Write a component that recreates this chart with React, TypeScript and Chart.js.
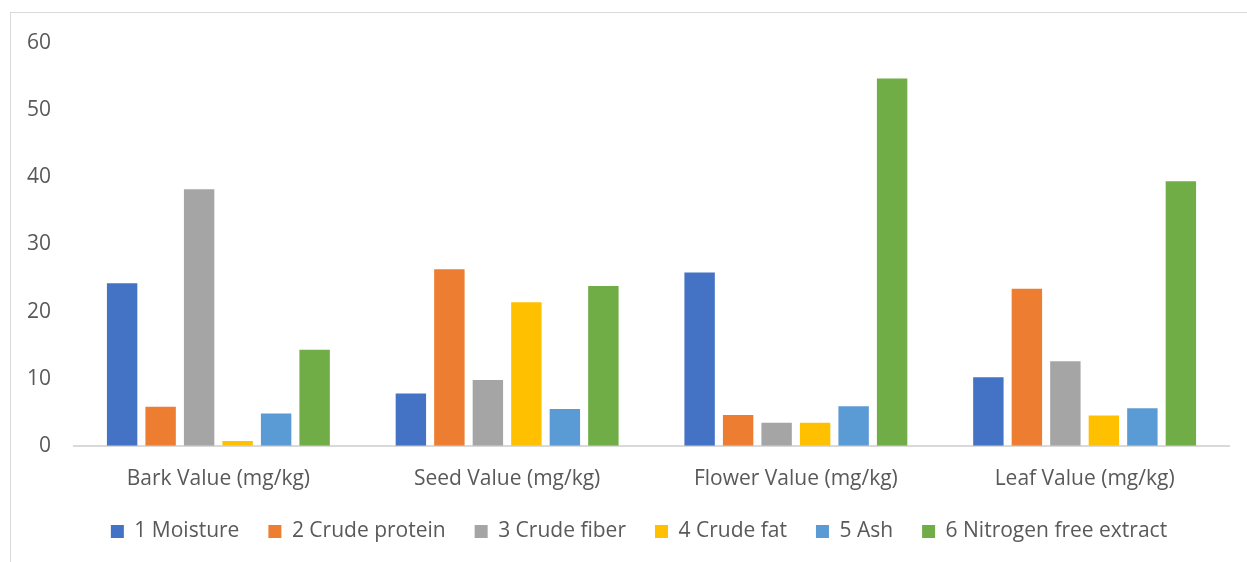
import React, { useEffect, useRef } from "react";
import { Chart, registerables } from "chart.js";

Chart.register(...registerables);

const categories = [
  "Bark Value (mg/kg)",
  "Seed Value (mg/kg)",
  "Flower Value (mg/kg)",
  "Leaf Value (mg/kg)",
];
const seriesNames = [
  "1 Moisture",
  "2 Crude protein",
  "3 Crude fiber",
  "4 Crude fat",
  "5 Ash",
  "6 Nitrogen free extract",
];
const moisture = [24.2, 7.8, 25.8, 10.2];
const crudeProtein = [5.8, 26.3, 4.6, 23.4];
const crudeFiber = [38.2, 9.8, 3.45, 12.6];
const crudeFat = [0.7, 21.4, 3.45, 4.5];
const ash = [4.8, 5.5, 5.9, 5.6];
const nitrogenFreeExtract = [14.3, 23.8, 54.7, 39.4];
const colors = ["#4472C4", "#ED7D31", "#A5A5A5", "#FFC000", "#5B9BD5", "#70AD47"];
const yTicks = [0, 10, 20, 30, 40, 50, 60];

const FONT = "'Open Sans', 'Noto Sans', sans-serif";

const legendShift = {
  id: "legendShift",
  afterLayout(chart: any) {
    const l = chart.legend;
    if (!l) return;
    l.left += 11;
    l.right += 11;
    l.top -= 21;
    l.bottom -= 21;
  },
};

export default function App() {
  const ref = useRef<HTMLCanvasElement | null>(null);
  useEffect(() => {
    if (!ref.current) return;
    const values = [moisture, crudeProtein, crudeFiber, crudeFat, ash, nitrogenFreeExtract];
    const chart = new Chart(ref.current, {
      type: "bar",
      data: {
        labels: categories,
        datasets: seriesNames.map((name, i) => ({
          label: name,
          data: values[i],
          backgroundColor: colors[i],
          borderWidth: 0,
          barPercentage: 0.79,
          categoryPercentage: 0.8,
        })),
      },
      plugins: [legendShift],
      options: {
        animation: false,
        responsive: false,
        maintainAspectRatio: false,
        layout: { padding: { left: 27, right: 18, top: 43, bottom: -11 } },
        plugins: {
          tooltip: { enabled: false },
          legend: {
            position: "bottom",
            labels: {
              boxWidth: 13,
              boxHeight: 13,
              padding: 29,
              color: "#595959",
              font: { family: FONT, size: 21 },
            },
          },
        },
        scales: {
          x: {
            grid: { display: false, drawTicks: false },
            border: { display: true, color: "#d9d9d9", width: 2 },
            ticks: {
              color: "#595959",
              padding: 21,
              font: { family: FONT, size: 21 },
            },
          },
          y: {
            min: 0,
            max: 60,
            afterFit: (scale: any) => {
              scale.width = 47;
            },
            afterBuildTicks: (scale: any) => {
              scale.ticks = yTicks.map((v) => ({ value: v }));
            },
            grid: { display: false, drawTicks: false },
            border: { display: false },
            ticks: {
              color: "#595959",
              padding: 23,
              font: { family: FONT, size: 21 },
            },
          },
        },
      },
    });
    return () => chart.destroy();
  }, []);
  return (
    <div
      style={{
        position: "absolute",
        left: 0,
        top: 0,
        width: 1247,
        height: 562,
        overflow: "hidden",
        background: "#fff",
      }}
    >
      <div
        style={{
          position: "absolute",
          left: 10,
          top: 12,
          width: 1300,
          height: 600,
          border: "1px solid #d9d9d9",
        }}
      />
      <canvas
        ref={ref}
        width={1247}
        height={562}
        style={{ position: "absolute", left: 0, top: 0 }}
      />
    </div>
  );
}
